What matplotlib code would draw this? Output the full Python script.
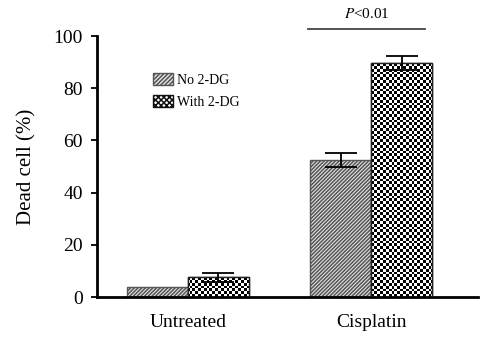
import numpy as np
import matplotlib
matplotlib.use("Agg")
import matplotlib.pyplot as plt
from matplotlib.patches import Patch

plt.rcParams['font.family'] = ['Liberation Serif', 'DejaVu Serif']
plt.rcParams['mathtext.fontset'] = 'stix'
plt.rcParams['hatch.linewidth'] = 1.1

groups = ['Untreated', 'Cisplatin']
series = ['No 2-DG', 'With 2-DG']
no_dg = [3.8, 52.5]
no_dg_err = [0.0, 2.7]
with_dg = [7.5, 89.7]
with_dg_err = [1.7, 2.6]
sig_label = r'$\mathit{P}$<0.01'
sig_height = 102.7

fig = plt.figure(figsize=(4.84, 3.43), dpi=100)
ax = fig.add_axes([0.2, 0.134, 0.788, 0.761])
xlim = (-0.497, 1.585)
ylim = (0, 100)

x = np.arange(len(groups))
w = 0.333
ax.bar(x - w / 2, no_dg, w, color='#e4e4e4', edgecolor='#555555', hatch='/' * 9,
       linewidth=1.0, zorder=2)
bars2 = ax.bar(x + w / 2, with_dg, w, color='white', edgecolor='#222222',
               linewidth=1.0, zorder=2)

# checkerboard texture for the "With 2-DG" bars
nx, ny = 136, 93
ii, jj = np.meshgrid(np.arange(nx), np.arange(ny))
checker = ((ii + jj) % 2).astype(float)
for b in bars2:
    im = ax.imshow(checker, cmap='gray', vmin=0, vmax=1, extent=[*xlim, *ylim],
                   aspect='auto', interpolation='nearest', zorder=2.5)
    im.set_clip_path(b)
for b in bars2:
    ax.add_patch(plt.Rectangle(b.get_xy(), b.get_width(), b.get_height(),
                               fill=False, edgecolor='#222222', lw=1.0, zorder=2.6))

for xs, vals, errs in [(x - w / 2, no_dg, no_dg_err), (x + w / 2, with_dg, with_dg_err)]:
    keep = [i for i, e in enumerate(errs) if e > 0]
    ax.errorbar(xs[keep], np.array(vals)[keep], yerr=np.array(errs)[keep], fmt='none',
                ecolor='black', capsize=11.5, elinewidth=1.3, capthick=1.3, zorder=3)

# significance bar over Cisplatin
ax.plot([0.656, 1.295], [sig_height, sig_height], color='#444444', lw=1.3, clip_on=False)
ax.text(0.978, sig_height + 3.0, sig_label, ha='center', va='bottom', fontsize=11)

ax.set_xlim(*xlim)
ax.set_ylim(*ylim)
ax.set_yticks([0, 20, 40, 60, 80, 100])
ax.set_xticks(x)
ax.set_xticklabels(groups)
ax.tick_params(axis='x', length=0, pad=12, labelsize=14)
ax.tick_params(axis='y', length=4, width=1.3, direction='out', pad=6, labelsize=14)
ax.set_ylabel('Dead cell (%)', fontsize=15, labelpad=12)
for s in ['top', 'right']:
    ax.spines[s].set_visible(False)
ax.spines['left'].set_linewidth(2)
ax.spines['bottom'].set_linewidth(2)

handles = [Patch(facecolor='#e4e4e4', edgecolor='#555555', hatch='/' * 8, label=series[0]),
           Patch(facecolor='white', edgecolor='#111111', hatch='x' * 6, label=series[1])]
ax.legend(handles=handles, loc='upper left', bbox_to_anchor=(0.115, 0.905), frameon=False,
          fontsize=10, handlelength=1.4, handleheight=0.9, handletextpad=0.3,
          labelspacing=0.6)

fig.savefig('out.png', dpi=100)
